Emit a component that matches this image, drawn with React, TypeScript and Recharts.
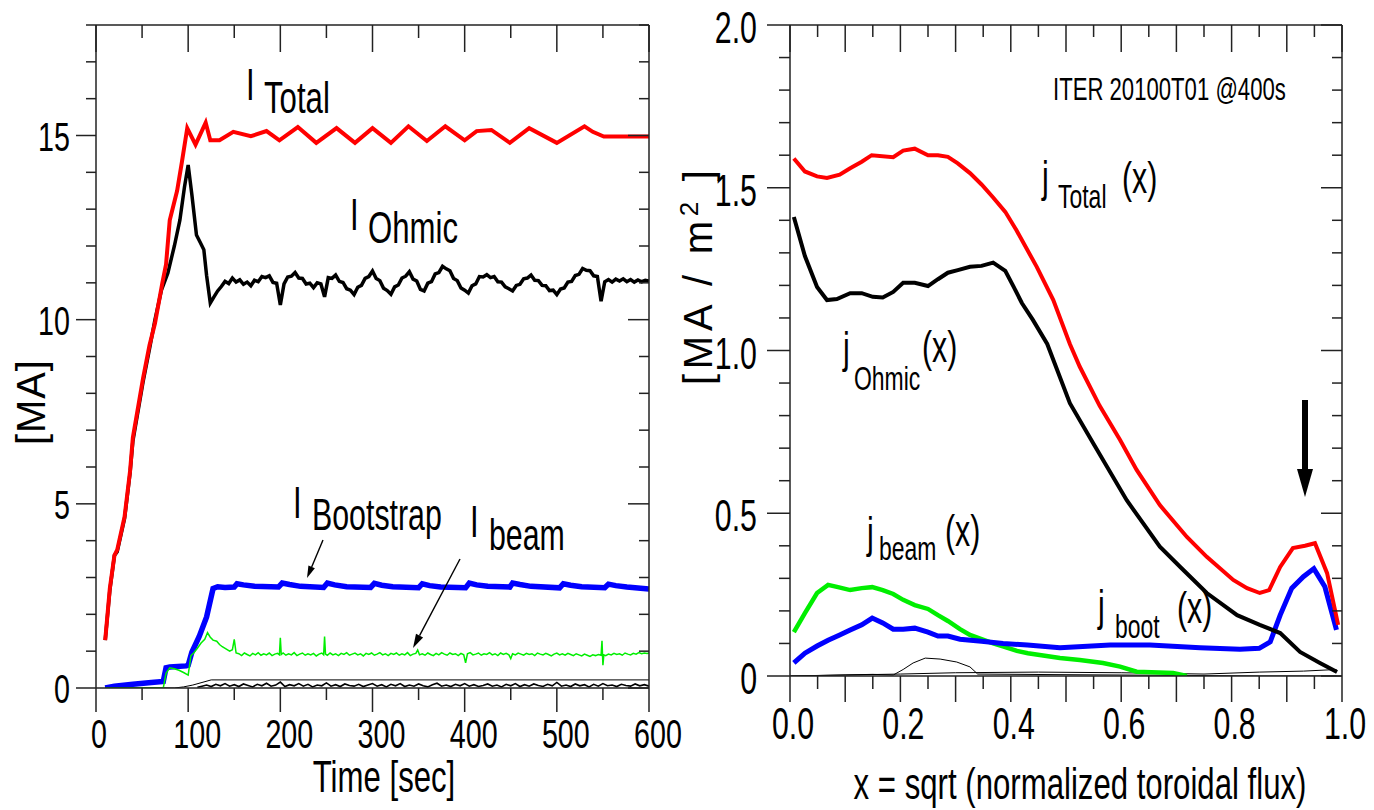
import { LineChart, Line, XAxis, YAxis } from 'recharts';

// condensed look: regular Liberation Sans squeezed horizontally and stretched vertically
const FONT = '"Liberation Sans", Arial, sans-serif';
const SX = 0.82;
const SY = 1.18;
const AXIS = '#222';

// ---------- left panel: plasma currents vs time ----------
const totalT = [10, 15, 20, 23, 31, 37, 40, 51, 58, 64, 72, 76, 80, 88, 93, 99, 108, 119, 124, 134, 149, 168, 185, 199, 219, 239, 261, 281, 300, 320, 339, 359, 379, 400, 413, 429, 449, 470, 500, 530, 539, 551, 600];
const totalI = [1.3, 2.7, 3.6, 3.75, 4.65, 5.9, 6.8, 8.4, 9.3, 9.9, 11.0, 11.5, 12.7, 13.5, 14.25, 15.2, 14.75, 15.35, 14.87, 14.87, 15.1, 14.98, 15.12, 14.87, 15.23, 14.8, 15.2, 14.8, 15.2, 14.8, 15.25, 14.85, 15.25, 14.87, 15.12, 15.15, 14.8, 15.2, 14.8, 15.25, 15.1, 14.97, 14.97];

const ohmicT = [10, 15, 20, 23, 31, 37, 40, 51, 58, 64, 71, 78, 85, 91, 96, 100, 104, 109, 113, 117, 120,
  124, 128, 132, 136, 140, 144, 148, 152, 156, 160, 164, 168, 172, 176, 180, 184, 188, 192, 196, 200,
  204, 208, 212, 216, 220, 224, 228, 232, 236, 240, 244, 248, 252, 256, 260, 264, 268, 272, 276, 280,
  284, 288, 292, 296, 300, 304, 308, 312, 316, 320, 324, 328, 332, 336, 340, 344, 348, 352, 356, 360,
  364, 368, 372, 376, 380, 384, 388, 392, 396, 400, 404, 408, 412, 416, 420, 424, 428, 432, 436, 440,
  444, 448, 452, 456, 460, 464, 468, 472, 476, 480, 484, 488, 492, 496, 500, 504, 508, 512, 516, 520,
  524, 528, 532, 536, 540, 544, 548, 552, 556, 560, 564, 568, 572, 576, 580, 584, 588, 592, 596, 600];
const ohmicI = [1.3, 2.65, 3.6, 3.7, 4.6, 5.85, 6.7, 8.3, 9.2, 10.0, 10.8, 11.27, 12.0, 12.7, 13.6, 14.2, 13.4, 12.3, 12.1, 11.9, 11.2,
  10.45, 10.62, 10.78, 10.9, 11.04, 10.98, 11.13, 11.02, 11.08, 10.96, 11.02, 10.92, 11.07, 11.03, 11.17, 11.14, 11.19, 11.01, 10.99, 10.4,
  10.97, 11.16, 11.18, 11.28, 11.13, 11.12, 10.97, 10.99, 10.87, 11.0, 10.97, 10.62, 11.14, 11.12, 11.21, 11.04, 11.01, 10.84, 10.8, 10.68,
  10.88, 10.93, 11.12, 11.17, 11.32, 11.12, 11.06, 10.85, 10.79, 10.69, 10.89, 10.94, 11.13, 11.18, 11.3, 11.1, 11.05, 10.82, 10.78, 10.99,
  11.03, 11.24, 11.28, 11.45, 11.38, 11.33, 11.12, 11.06, 10.86, 10.8, 10.72, 10.92, 10.97, 11.17, 11.16, 11.22, 11.14, 11.17, 11.03, 11.02,
  10.89, 10.84, 10.78, 10.93, 10.96, 11.11, 11.13, 11.21, 11.07, 11.06, 10.93, 10.92, 10.79, 10.8, 10.68, 10.83, 10.86, 11.02, 11.04, 11.2,
  11.23, 11.39, 11.34, 11.33, 11.19, 11.17, 10.5, 11.03, 11.09, 11.02, 11.1, 11.05, 11.11, 11.03, 11.09, 11.02, 11.08, 11.03, 11.07, 11.05];

const bootT = [10, 20, 40, 60, 73, 76, 80, 98, 100, 104, 112, 120, 127, 132, 140, 150, 153, 160, 172, 198, 202, 210, 222, 247, 251, 259, 272, 298, 302, 310, 322, 350, 354, 362, 374, 401, 405, 413, 425, 449, 452, 460, 472, 503, 507, 515, 527, 552, 556, 564, 576, 600];
const bootI = [0.0, 0.05, 0.1, 0.15, 0.18, 0.55, 0.57, 0.6, 0.62, 0.97, 1.4, 1.93, 2.7, 2.75, 2.73, 2.74, 2.83, 2.8, 2.76, 2.74, 2.85, 2.81, 2.76, 2.73, 2.85, 2.8, 2.75, 2.73, 2.84, 2.79, 2.75, 2.72, 2.83, 2.78, 2.74, 2.72, 2.85, 2.8, 2.76, 2.74, 2.85, 2.81, 2.76, 2.72, 2.83, 2.79, 2.75, 2.72, 2.82, 2.78, 2.74, 2.69];

const beamT = [10, 73, 76, 80, 85, 90, 95, 100, 103, 106, 110, 114, 118, 121, 124, 127, 131, 134, 137, 141, 145, 148, 150, 152,
  155, 158, 161, 164, 167, 170, 173, 176, 179, 182, 185, 188, 191, 194, 197, 199, 200, 201, 203, 206, 209, 212, 215, 218, 221, 224, 227, 230, 233, 236, 239, 242, 245, 247, 248, 249,
  251, 254, 257, 260, 263, 266, 269, 272, 275, 278, 281, 284, 287, 290, 293, 296, 299, 302, 305, 308, 311, 314, 317, 320, 323, 326, 329, 332, 335, 338, 341, 344, 347, 349, 351,
  354, 357, 360, 363, 366, 369, 372, 375, 378, 381, 384, 387, 390, 393, 396, 399, 401, 403, 406, 409, 412, 415, 418, 421, 424, 427, 430, 433, 436, 439, 442, 445, 448, 450, 452,
  455, 458, 461, 464, 467, 470, 473, 476, 479, 482, 485, 488, 491, 494, 497, 500, 503, 506, 509, 512, 515, 518, 521, 524, 527, 530, 533, 536, 539, 542, 545, 548, 549, 550, 551,
  553, 556, 559, 562, 565, 568, 571, 574, 577, 580, 583, 586, 589, 592, 595, 598, 600];
const beamI = [0.0, 0.0, 0.4, 0.55, 0.52, 0.48, 0.42, 0.35, 0.88, 0.95, 1.08, 1.22, 1.32, 1.5, 1.38, 1.3, 1.27, 1.18, 1.12, 1.06, 1.0, 1.04, 1.32, 0.95,
  0.93, 0.88, 0.95, 0.91, 0.87, 0.94, 0.9, 0.96, 0.89, 0.93, 0.9, 0.95, 0.88, 0.92, 0.94, 0.9, 1.36, 0.91, 0.95, 0.89, 0.93, 0.9, 0.96, 0.88, 0.92, 0.95, 0.89, 0.93, 0.9, 0.94, 0.87, 0.92, 0.95, 0.9, 1.4, 0.92,
  0.89, 0.95, 0.9, 0.93, 0.88, 0.94, 0.91, 0.96, 0.89, 0.92, 0.95, 0.9, 0.93, 0.87, 0.94, 0.91, 0.95, 0.89, 0.92, 0.96, 0.9, 0.93, 0.88, 0.94, 0.91, 0.95, 0.89, 0.93, 0.9, 0.96, 0.88, 0.92, 0.94, 1.03, 0.9,
  0.93, 0.89, 0.95, 0.91, 0.88, 0.94, 0.9, 0.96, 0.92, 0.89, 0.95, 0.91, 0.93, 0.88, 0.94, 0.9, 0.68, 0.93, 0.96, 0.9, 0.92, 0.95, 0.89, 0.93, 0.91, 0.96, 0.9, 0.93, 0.88, 0.95, 0.91, 0.94, 0.9, 0.8, 0.93,
  0.9, 0.95, 0.92, 0.89, 0.94, 0.91, 0.93, 0.88, 0.95, 0.92, 0.9, 0.94, 0.91, 0.87, 0.92, 0.95, 0.9, 0.93, 0.89, 0.94, 0.91, 0.88, 0.93, 0.9, 0.87, 0.92, 0.89, 0.86, 0.9, 0.88, 0.91, 0.89, 1.28, 0.62, 0.9,
  0.88, 0.92, 0.9, 0.94, 0.91, 0.93, 0.89, 0.95, 0.92, 0.9, 0.94, 0.92, 0.96, 0.93, 0.95, 0.94, 0.95];

const otherT = [10, 85, 95, 105, 115, 125, 600];
const otherI = [0.0, 0.0, 0.03, 0.08, 0.15, 0.22, 0.22];

const rippleT = [110, 115, 120, 125, 130, 135, 140, 145, 150, 155, 160, 165, 170, 175, 180, 185, 190, 195, 200, 205, 210, 215, 220, 225, 230, 235, 240, 245, 250, 255, 260, 265, 270, 275, 280, 285, 290, 295, 300,
  305, 310, 315, 320, 325, 330, 335, 340, 345, 350, 355, 360, 365, 370, 375, 380, 385, 390, 395, 400, 405, 410, 415, 420, 425, 430, 435, 440, 445, 450,
  455, 460, 465, 470, 475, 480, 485, 490, 495, 500, 505, 510, 515, 520, 525, 530, 535, 540, 545, 550, 555, 560, 565, 570, 575, 580, 585, 590, 595, 600];
const rippleI = [0.02, 0.05, 0.08, 0.04, 0.1, 0.06, 0.12, 0.05, 0.09, 0.04, 0.11, 0.07, 0.03, 0.1, 0.06, 0.13, 0.05, 0.08, 0.16, 0.04, 0.09, 0.06, 0.12, 0.05, 0.1, 0.03, 0.08, 0.06, 0.14, 0.05, 0.09, 0.04, 0.11, 0.07, 0.05, 0.1, 0.04, 0.08, 0.12,
  0.05, 0.09, 0.03, 0.1, 0.06, 0.12, 0.04, 0.08, 0.05, 0.11, 0.06, 0.03, 0.09, 0.13, 0.05, 0.08, 0.04, 0.1, 0.06, 0.12, 0.05, 0.09, 0.04, 0.07, 0.11, 0.05, 0.08, 0.03, 0.1, 0.06,
  0.12, 0.04, 0.09, 0.05, 0.11, 0.07, 0.04, 0.1, 0.06, 0.15, 0.05, 0.08, 0.04, 0.11, 0.06, 0.09, 0.03, 0.1, 0.05, 0.12, 0.06, 0.08, 0.04, 0.1, 0.07, 0.05, 0.11, 0.06, 0.09, 0.05];

// ---------- right panel: current density profiles ----------
const jTotalX = [0.007, 0.027, 0.049, 0.067, 0.09, 0.109, 0.13, 0.148, 0.187, 0.205, 0.226, 0.25, 0.268, 0.286, 0.304, 0.326, 0.347, 0.368, 0.39, 0.41, 0.447, 0.477, 0.507, 0.525, 0.561, 0.598, 0.628, 0.67, 0.719, 0.755, 0.803, 0.828, 0.851, 0.868, 0.888, 0.911, 0.933, 0.951, 0.973, 0.993];
const jTotalY = [1.59, 1.55, 1.535, 1.53, 1.54, 1.56, 1.58, 1.6, 1.594, 1.614, 1.62, 1.6, 1.6, 1.595, 1.575, 1.545, 1.51, 1.47, 1.426, 1.37, 1.257, 1.155, 1.02, 0.95, 0.83, 0.725, 0.633, 0.525, 0.427, 0.366, 0.295, 0.27, 0.255, 0.264, 0.335, 0.393, 0.4, 0.408, 0.316, 0.157];

const jOhmicX = [0.007, 0.027, 0.049, 0.067, 0.085, 0.109, 0.13, 0.15, 0.168, 0.187, 0.205, 0.226, 0.25, 0.268, 0.286, 0.304, 0.326, 0.347, 0.368, 0.39, 0.405, 0.42, 0.44, 0.466, 0.507, 0.549, 0.61, 0.67, 0.707, 0.755, 0.81, 0.851, 0.888, 0.924, 0.96, 0.991];
const jOhmicY = [1.41, 1.29, 1.195, 1.155, 1.158, 1.176, 1.176, 1.165, 1.163, 1.18, 1.208, 1.208, 1.198, 1.219, 1.239, 1.247, 1.257, 1.26, 1.27, 1.245, 1.196, 1.146, 1.094, 1.02, 0.838, 0.716, 0.54, 0.397, 0.335, 0.255, 0.187, 0.157, 0.132, 0.074, 0.04, 0.012];

const jBootX = [0.007, 0.027, 0.049, 0.069, 0.09, 0.109, 0.13, 0.149, 0.168, 0.187, 0.205, 0.226, 0.25, 0.268, 0.286, 0.308, 0.347, 0.386, 0.43, 0.489, 0.58, 0.652, 0.743, 0.815, 0.85, 0.87, 0.888, 0.909, 0.93, 0.949, 0.969, 0.99];
const jBootY = [0.04, 0.07, 0.092, 0.11, 0.126, 0.141, 0.157, 0.178, 0.163, 0.144, 0.144, 0.147, 0.135, 0.123, 0.123, 0.113, 0.107, 0.1, 0.095, 0.087, 0.095, 0.095, 0.087, 0.082, 0.085, 0.105, 0.187, 0.27, 0.305, 0.33, 0.274, 0.142];

const jBeamX = [0.007, 0.027, 0.049, 0.069, 0.087, 0.109, 0.13, 0.149, 0.168, 0.187, 0.205, 0.226, 0.25, 0.268, 0.286, 0.308, 0.326, 0.347, 0.368, 0.39, 0.411, 0.431, 0.489, 0.525, 0.567, 0.598, 0.628, 0.694, 0.719];
const jBeamY = [0.135, 0.193, 0.255, 0.28, 0.273, 0.264, 0.27, 0.273, 0.264, 0.252, 0.234, 0.218, 0.206, 0.187, 0.169, 0.144, 0.126, 0.113, 0.1, 0.089, 0.077, 0.07, 0.055, 0.049, 0.04, 0.029, 0.013, 0.009, 0.0];

const jBumpX = [0.0, 0.15, 0.187, 0.205, 0.223, 0.245, 0.272, 0.302, 0.326, 0.34, 0.5, 0.7, 0.85, 0.99];
const jBumpY = [0.0, 0.005, 0.003, 0.02, 0.04, 0.055, 0.052, 0.043, 0.028, 0.006, 0.004, 0.002, 0.0, 0.0];

const jBaseX = [0.0, 0.1, 0.2, 0.3, 0.45, 0.6, 0.75, 0.85, 0.93, 0.99];
const jBaseY = [0.0, 0.003, 0.006, 0.01, 0.012, 0.01, 0.006, 0.012, 0.015, 0.02];

// ---------- ticks ----------
const timeTicks = [0, 50, 100, 150, 200, 250, 300, 350, 400, 450, 500, 550, 600];
const maTicks = [0, 1, 2, 3, 4, 5, 6, 7, 8, 9, 10, 11, 12, 13, 14, 15, 16, 17, 18];
const rhoTicks = [0, 0.05, 0.1, 0.15, 0.2, 0.25, 0.3, 0.35, 0.4, 0.45, 0.5, 0.55, 0.6, 0.65, 0.7, 0.75, 0.8, 0.85, 0.9, 0.95, 1.0];
const jTicks = [0, 0.1, 0.2, 0.3, 0.4, 0.5, 0.6, 0.7, 0.8, 0.9, 1.0, 1.1, 1.2, 1.3, 1.4, 1.5, 1.6, 1.7, 1.8, 1.9, 2.0];

const pts = (xs: number[], ys: number[]) => xs.map((x, i) => ({ x, y: ys[i] }));

interface TickSpec {
  dir: 'down' | 'left';
  isMajor: (v: number) => boolean;
  long: number;
  short: number;
  label?: (v: number) => string | null;
  fontSize?: number;
  dx?: (s: string) => number;
  dy?: number;
}

// draws its own tick line (major/minor length) plus an optional label
function makeTick(spec: TickSpec) {
  return (props: any) => {
    const { x, y, payload } = props;
    const v = payload.value as number;
    const len = spec.isMajor(v) ? spec.long : spec.short;
    const text = spec.label ? spec.label(v) : null;
    const tx = x + (text && spec.dx ? spec.dx(text) : 0);
    return (
      <g>
        <line
          x1={x} y1={y}
          x2={spec.dir === 'left' ? x - len : x}
          y2={spec.dir === 'down' ? y + len : y}
          stroke={AXIS} strokeWidth={1.5}
        />
        {text != null && (
          <text
            transform={`translate(${tx},${y + (spec.dy ?? 0)}) scale(${SX},${SY})`}
            textAnchor={spec.dir === 'down' ? 'middle' : 'end'}
            fontFamily={FONT} fontSize={spec.fontSize} fill="#000"
          >
            {text}
          </text>
        )}
      </g>
    );
  };
}

const axisLine = { stroke: AXIS, strokeWidth: 1.5 };
const r100 = (v: number) => Math.round(v * 100);

function Txt({ x, y, size, children, anchor = 'start' }: { x: number; y: number; size: number; children: any; anchor?: string }) {
  return (
    <text transform={`translate(${x},${y}) scale(${SX},${SY})`} fontFamily={FONT} fontSize={size} textAnchor={anchor as any} fill="#000">
      {children}
    </text>
  );
}

function Arrow({ x1, y1, x2, y2, w, head, headW }: { x1: number; y1: number; x2: number; y2: number; w: number; head: number; headW: number }) {
  const L = Math.hypot(x2 - x1, y2 - y1);
  const ux = (x2 - x1) / L, uy = (y2 - y1) / L;
  const bx = x2 - ux * head, by = y2 - uy * head;
  const px = -uy * headW / 2, py = ux * headW / 2;
  return (
    <g>
      <line x1={x1} y1={y1} x2={bx} y2={by} stroke="#000" strokeWidth={w} />
      <polygon points={`${x2},${y2} ${bx + px},${by + py} ${bx - px},${by - py}`} fill="#000" />
    </g>
  );
}

export default function App() {
  return (
    <div style={{ position: 'absolute', left: 0, top: 0, width: 1374, height: 810, background: '#fff' }}>
      <div style={{ position: 'absolute', left: 0, top: 0 }}>
        <LineChart width={700} height={810} margin={{ top: 24, right: 50, bottom: 22, left: 16 }}>
          <XAxis
            dataKey="x" type="number" domain={[0, 600]} ticks={timeTicks} interval={0} allowDataOverflow
            height={100} tickSize={0} tickMargin={0} tickLine={false} axisLine={axisLine}
            tick={makeTick({ dir: 'down', isMajor: (v) => v % 100 === 0, long: 24, short: 12, label: (v) => (v % 100 === 0 ? String(v) : null), fontSize: 35, dx: (s) => s.length * 3, dy: 60 })}
          />
          <XAxis
            xAxisId="top" orientation="top" dataKey="x" type="number" domain={[0, 600]} ticks={timeTicks} interval={0} allowDataOverflow
            height={1} tickSize={0} tickMargin={0} tickLine={false} axisLine={axisLine}
            tick={makeTick({ dir: 'down', isMajor: (v) => v % 100 === 0, long: 27, short: 13 })}
          />
          <YAxis
            type="number" domain={[0, 18]} ticks={maTicks} interval={0} allowDataOverflow
            width={80} tickSize={0} tickMargin={0} tickLine={false} axisLine={axisLine}
            tick={makeTick({ dir: 'left', isMajor: (v) => v % 5 === 0, long: 20, short: 10, label: (v) => (v % 5 === 0 ? String(v) : null), fontSize: 35, dx: () => -26, dy: 15 })}
          />
          <YAxis
            yAxisId="r" orientation="right" type="number" domain={[0, 18]} ticks={maTicks} interval={0} allowDataOverflow
            width={1} tickSize={0} tickMargin={0} tickLine={false} axisLine={axisLine}
            tick={makeTick({ dir: 'left', isMajor: (v) => v % 5 === 0, long: 21, short: 10 })}
          />
          <Line data={pts(rippleT, rippleI)} dataKey="y" type="linear" stroke="#000" strokeWidth={1.6} dot={false} isAnimationActive={false} />
          <Line data={pts(otherT, otherI)} dataKey="y" type="linear" stroke="#000" strokeWidth={1} dot={false} isAnimationActive={false} />
          <Line data={pts(ohmicT, ohmicI)} dataKey="y" type="linear" stroke="#000" strokeWidth={3.5} dot={false} isAnimationActive={false} />
          <Line data={pts(totalT, totalI)} dataKey="y" type="linear" stroke="#ff0000" strokeWidth={4} dot={false} isAnimationActive={false} />
          <Line data={pts(bootT, bootI)} dataKey="y" type="linear" stroke="#0000ff" strokeWidth={5.5} dot={false} isAnimationActive={false} />
          <Line data={pts(beamT, beamI)} dataKey="y" type="linear" stroke="#00ee00" strokeWidth={1.5} dot={false} isAnimationActive={false} />
        </LineChart>
      </div>

      <div style={{ position: 'absolute', left: 680, top: 0 }}>
        <LineChart width={694} height={810} margin={{ top: 24, right: 31, bottom: 24, left: 30 }}>
          <XAxis
            dataKey="x" type="number" domain={[0, 1]} ticks={rhoTicks} interval={0} allowDataOverflow
            height={110} tickSize={0} tickMargin={0} tickLine={false} axisLine={axisLine}
            tick={makeTick({ dir: 'down', isMajor: (v) => r100(v) % 10 === 0, long: 26, short: 13, label: (v) => (r100(v) % 20 === 0 ? v.toFixed(1) : null), fontSize: 37, dx: () => 3, dy: 63 })}
          />
          <XAxis
            xAxisId="top" orientation="top" dataKey="x" type="number" domain={[0, 1]} ticks={rhoTicks} interval={0} allowDataOverflow
            height={1} tickSize={0} tickMargin={0} tickLine={false} axisLine={axisLine}
            tick={makeTick({ dir: 'down', isMajor: (v) => r100(v) % 10 === 0, long: 27, short: 12 })}
          />
          <YAxis
            type="number" domain={[0, 2]} ticks={jTicks} interval={0} allowDataOverflow
            width={80} tickSize={0} tickMargin={0} tickLine={false} axisLine={axisLine}
            tick={makeTick({ dir: 'left', isMajor: (v) => r100(v) % 50 === 0, long: 23, short: 11, label: (v) => (r100(v) % 50 === 0 ? (v === 0 ? '0' : v.toFixed(1)) : null), fontSize: 37, dx: () => -33, dy: 18 })}
          />
          <YAxis
            yAxisId="r" orientation="right" type="number" domain={[0, 2]} ticks={jTicks} interval={0} allowDataOverflow
            width={1} tickSize={0} tickMargin={0} tickLine={false} axisLine={axisLine}
            tick={makeTick({ dir: 'left', isMajor: (v) => r100(v) % 50 === 0, long: 21, short: 10 })}
          />
          <Line data={pts(jBaseX, jBaseY)} dataKey="y" type="linear" stroke="#000" strokeWidth={1} dot={false} isAnimationActive={false} />
          <Line data={pts(jBumpX, jBumpY)} dataKey="y" type="linear" stroke="#000" strokeWidth={1} dot={false} isAnimationActive={false} />
          <Line data={pts(jBeamX, jBeamY)} dataKey="y" type="linear" stroke="#00ee00" strokeWidth={4.5} dot={false} isAnimationActive={false} />
          <Line data={pts(jBootX, jBootY)} dataKey="y" type="linear" stroke="#0000ff" strokeWidth={5} dot={false} isAnimationActive={false} />
          <Line data={pts(jOhmicX, jOhmicY)} dataKey="y" type="linear" stroke="#000" strokeWidth={4} dot={false} isAnimationActive={false} />
          <Line data={pts(jTotalX, jTotalY)} dataKey="y" type="linear" stroke="#ff0000" strokeWidth={4} dot={false} isAnimationActive={false} />
        </LineChart>
      </div>

      {/* labels and arrows laid over both panels */}
      <svg width={1374} height={810} style={{ position: 'absolute', left: 0, top: 0, pointerEvents: 'none' }}>
        <text transform="translate(45,445) rotate(-90)" fontFamily={FONT} fontSize={40} textLength={85} fill="#000">[MA]</text>
        <Txt x={384} y={792} size={38} anchor="middle">Time [sec]</Txt>

        <Txt x={246} y={100} size={38}>I</Txt>
        <Txt x={264} y={113} size={38}>Total</Txt>
        <Txt x={350} y={230} size={38}>I</Txt>
        <Txt x={368} y={243} size={38}>Ohmic</Txt>
        <Txt x={293} y={518} size={38}>I</Txt>
        <Txt x={312} y={530} size={37}>Bootstrap</Txt>
        <Txt x={470} y={537} size={38}>I</Txt>
        <Txt x={489} y={550} size={37}>beam</Txt>
        <Arrow x1={323} y1={540} x2={307} y2={578} w={1.4} head={12} headW={7} />
        <Arrow x1={460} y1={559} x2={413} y2={648} w={1.4} head={14} headW={8} />

        <text transform="translate(712,385) rotate(-90)" fontFamily={FONT} fontSize={40} textLength={215} fill="#000">
          [MA / m<tspan dy={-14} fontSize={26}>2</tspan><tspan dy={14}> ]</tspan>
        </text>
        <Txt x={1080} y={799} size={38} anchor="middle">x = sqrt (normalized toroidal flux)</Txt>
        <Txt x={1053} y={100} size={27}>ITER 20100T01  @400s</Txt>

        <Txt x={1042} y={192} size={37}>j</Txt>
        <Txt x={1058} y={208} size={28}>Total</Txt>
        <Txt x={1122} y={193} size={37}>(x)</Txt>
        <Txt x={843} y={363} size={37}>j</Txt>
        <Txt x={854} y={390} size={28}>Ohmic</Txt>
        <Txt x={922} y={362} size={37}>(x)</Txt>
        <Txt x={867} y={548} size={37}>j</Txt>
        <Txt x={879} y={560} size={28}>beam</Txt>
        <Txt x={945} y={546} size={37}>(x)</Txt>
        <Txt x={1098} y={621} size={37}>j</Txt>
        <Txt x={1115} y={638} size={28}>boot</Txt>
        <Txt x={1177} y={623} size={37}>(x)</Txt>
        <Arrow x1={1305} y1={400} x2={1305} y2={497} w={6} head={28} headW={16} />
      </svg>
    </div>
  );
}
